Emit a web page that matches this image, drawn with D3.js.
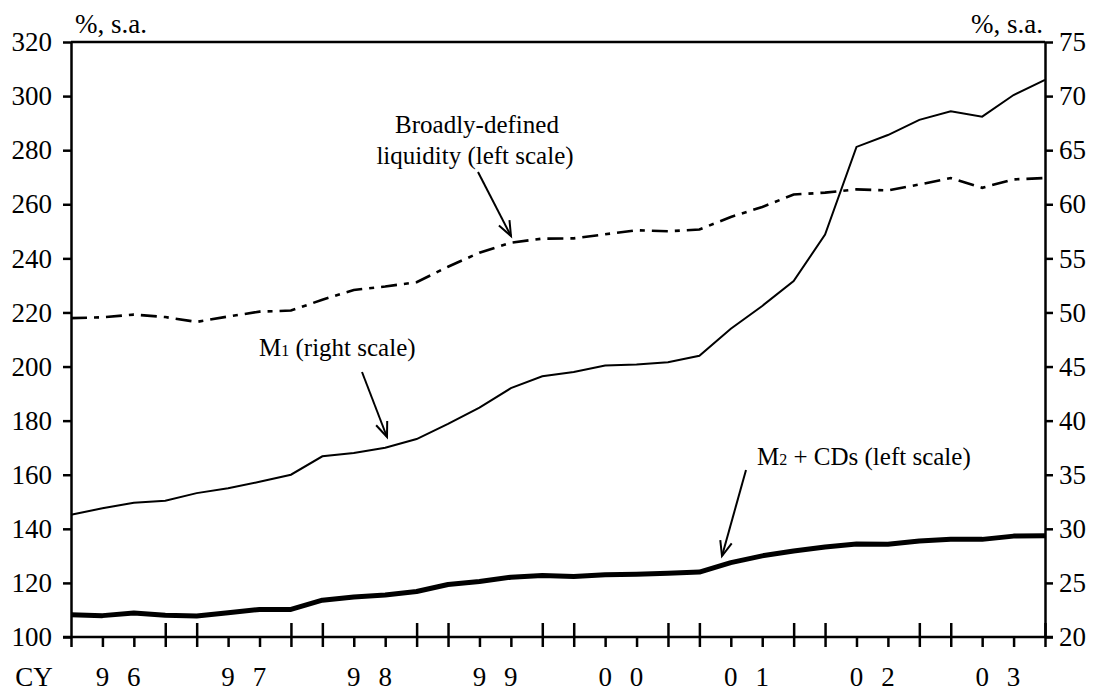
<!DOCTYPE html>
<html>
<head>
<meta charset="utf-8">
<script src="https://cdn.jsdelivr.net/npm/d3@7"></script>
<style>
  html, body { margin: 0; padding: 0; background: #fff; }
  svg { display: block; }
  text { font-family: "Liberation Serif", "Times New Roman", serif; fill: #000; }
</style>
</head>
<body>
<script>
// ---- data ----
const quarters = [
  "96Q1","96Q2","96Q3","96Q4","97Q1","97Q2","97Q3","97Q4",
  "98Q1","98Q2","98Q3","98Q4","99Q1","99Q2","99Q3","99Q4",
  "00Q1","00Q2","00Q3","00Q4","01Q1","01Q2","01Q3","01Q4",
  "02Q1","02Q2","02Q3","02Q4","03Q1","03Q2","03Q3","03Q4"
];
const years = ["96","97","98","99","00","01","02","03"];
const liquidity = [217.9, 218.2, 219.2, 218.3, 216.5, 218.5, 220.3, 220.7,
                   224.7, 228.3, 229.6, 231.2, 236.9, 242.1, 245.8, 247.3,
                   247.4, 248.9, 250.4, 250.0, 250.7, 255.3, 259.0, 263.6,
                   264.3, 265.5, 265.1, 267.3, 269.7, 266.1, 269.2, 269.7];
const m2cds = [108.2, 107.9, 108.9, 108.0, 107.8, 109.0, 110.2, 110.2,
               113.6, 114.8, 115.5, 116.8, 119.4, 120.5, 122.1, 122.7,
               122.4, 123.0, 123.2, 123.6, 124.0, 127.5, 130.0, 131.8,
               133.3, 134.4, 134.3, 135.5, 136.1, 136.1, 137.3, 137.4];
const m1 = [31.3, 31.9, 32.4, 32.6, 33.3, 33.75, 34.35, 35.0,
            36.7, 37.0, 37.5, 38.3, 39.7, 41.2, 43.0, 44.1,
            44.5, 45.1, 45.2, 45.4, 46.0, 48.5, 50.6, 52.9,
            57.2, 65.3, 66.4, 67.8, 68.6, 68.1, 70.1, 71.5];
const leftTicks = [100,120,140,160,180,200,220,240,260,280,300,320];
const rightTicks = [20,25,30,35,40,45,50,55,60,65,70,75];
const unitLabel = "%, s.a.";
const xPrefix = "CY";

// ---- layout ----
const W = 1096, H = 693;
const L = 71, R = 1045, T = 42, B = 637;

const svg = d3.select("body").append("svg").attr("width", W).attr("height", H);

const x = d3.scalePoint().domain(quarters).range([L, R]);
const yL = d3.scaleLinear().domain([100, 320]).range([B, T]);
const yR = d3.scaleLinear().domain([20, 75]).range([B, T]);

const axisFont = 27;

// top frame line
svg.append("line").attr("x1", L).attr("x2", R).attr("y1", T).attr("y2", T)
  .attr("stroke", "#000").attr("stroke-width", 2.5);

// left axis
const gL = svg.append("g").attr("transform", `translate(${L},0)`)
  .call(d3.axisLeft(yL).tickValues(leftTicks).tickSize(8).tickSizeOuter(0).tickPadding(11));
// right axis
const gR = svg.append("g").attr("transform", `translate(${R},0)`)
  .call(d3.axisRight(yR).tickValues(rightTicks).tickSize(8).tickSizeOuter(0).tickPadding(6));
// bottom axis
const gB = svg.append("g").attr("transform", `translate(0,${B})`)
  .call(d3.axisBottom(x).tickSize(10).tickSizeOuter(0).tickFormat(""));
gB.selectAll(".tick line").each(function(d, i) {
  if (i % 4 === 3 || (i % 4 === 0 && i > 0)) d3.select(this).attr("y1", -14);
});

[gL, gR, gB].forEach(g => {
  g.select(".domain").attr("stroke", "#000").attr("stroke-width", 2.5);
  g.selectAll(".tick line").attr("stroke", "#000").attr("stroke-width", 2.5);
  g.selectAll(".tick text").attr("font-size", axisFont)
    .attr("font-family", '"Liberation Serif", "Times New Roman", serif').attr("fill", "#000");
});
gB.select(".domain").attr("d", `M${L - 8},0H${R + 8}`);

// year labels: two digits placed on 2nd and 3rd quarter of each year
years.forEach((yr, k) => {
  const digits = yr.split("");
  digits.forEach((dg, j) => {
    svg.append("text")
      .attr("x", x(quarters[4 * k + 1 + j]))
      .attr("y", 686)
      .attr("text-anchor", "middle")
      .attr("font-size", axisFont)
      .text(dg);
  });
});
svg.append("text").attr("x", 34).attr("y", 686).attr("text-anchor", "middle")
  .attr("font-size", axisFont).text(xPrefix);

// unit labels
svg.append("text").attr("x", 75).attr("y", 33).attr("font-size", 27).text(unitLabel);
svg.append("text").attr("x", 1043).attr("y", 33).attr("text-anchor", "end")
  .attr("font-size", 27).text(unitLabel);

// lines
const lineL = d3.line().x((d, i) => x(quarters[i])).y(d => yL(d));
const lineR = d3.line().x((d, i) => x(quarters[i])).y(d => yR(d));

svg.append("path").datum(liquidity).attr("d", lineL)
  .attr("fill", "none").attr("stroke", "#000").attr("stroke-width", 2.6)
  .attr("stroke-dasharray", "16,7,5,7");
svg.append("path").datum(m1).attr("d", lineR)
  .attr("fill", "none").attr("stroke", "#000").attr("stroke-width", 2);
svg.append("path").datum(m2cds).attr("d", lineL)
  .attr("fill", "none").attr("stroke", "#000").attr("stroke-width", 5)
  .attr("stroke-linejoin", "round");

// annotations
const annFont = 25;
function arrow(x1, y1, x2, y2) {
  svg.append("line").attr("x1", x1).attr("y1", y1).attr("x2", x2).attr("y2", y2)
    .attr("stroke", "#000").attr("stroke-width", 2);
  const a = Math.atan2(y2 - y1, x2 - x1);
  const len = 16, spread = 0.38;
  const p1 = [x2 - len * Math.cos(a - spread), y2 - len * Math.sin(a - spread)];
  const p2 = [x2 - len * Math.cos(a + spread), y2 - len * Math.sin(a + spread)];
  svg.append("path").attr("d", `M${p1[0]},${p1[1]}L${x2},${y2}L${p2[0]},${p2[1]}`)
    .attr("fill", "none").attr("stroke", "#000").attr("stroke-width", 2);
}

svg.append("text").attr("x", 477).attr("y", 133).attr("text-anchor", "middle")
  .attr("font-size", annFont).text("Broadly-defined");
svg.append("text").attr("x", 475).attr("y", 164).attr("text-anchor", "middle")
  .attr("font-size", annFont).text("liquidity (left scale)");
arrow(478, 172, 511, 236);

const t1 = svg.append("text").attr("x", 259).attr("y", 356).attr("font-size", annFont);
t1.append("tspan").text("M");
t1.append("tspan").attr("font-size", 16).text("1");
t1.append("tspan").text(" (right scale)");
arrow(362, 372, 387, 437);

const t2 = svg.append("text").attr("x", 757).attr("y", 465).attr("font-size", annFont);
t2.append("tspan").text("M");
t2.append("tspan").attr("font-size", 16).text("2");
t2.append("tspan").text(" + CDs (left scale)");
arrow(746, 470, 722, 556);
</script>
</body>
</html>
